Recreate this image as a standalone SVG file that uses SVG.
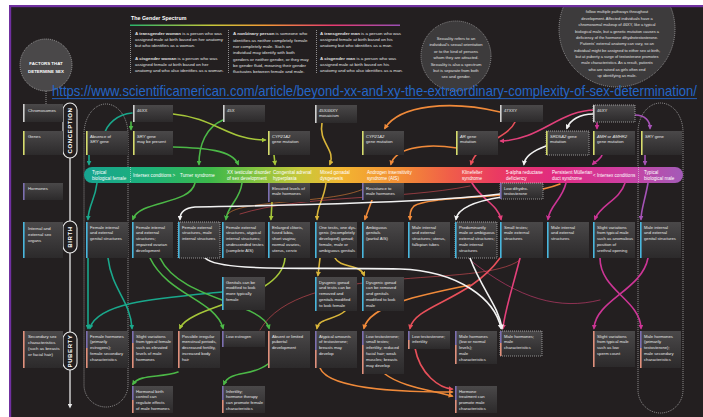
<svg xmlns="http://www.w3.org/2000/svg" width="703" height="417" viewBox="0 0 703 417">
<defs>
<linearGradient id="gb" x1="0" y1="0" x2="0" y2="1"><stop offset="0" stop-color="#4a4849"/><stop offset="1" stop-color="#2c2a2b"/></linearGradient>
<linearGradient id="band" gradientUnits="userSpaceOnUse" x1="84" y1="0" x2="683" y2="0">
<stop offset="0" stop-color="#17a390"/><stop offset="0.11" stop-color="#1db27a"/><stop offset="0.21" stop-color="#3cb84a"/><stop offset="0.29" stop-color="#86c440"/><stop offset="0.36" stop-color="#c7c83a"/><stop offset="0.43" stop-color="#f2b531"/><stop offset="0.53" stop-color="#f38d35"/><stop offset="0.61" stop-color="#f05e49"/><stop offset="0.69" stop-color="#ea3a62"/><stop offset="0.79" stop-color="#e02b82"/><stop offset="0.89" stop-color="#d03d9f"/><stop offset="1" stop-color="#a35bb8"/>
</linearGradient>
<linearGradient id="gsl" gradientUnits="userSpaceOnUse" x1="130" y1="0" x2="400" y2="0">
<stop offset="0" stop-color="#2bb36a"/><stop offset="0.3" stop-color="#c6c83a"/><stop offset="0.5" stop-color="#f39a35"/><stop offset="0.75" stop-color="#e83a70"/><stop offset="1" stop-color="#9a4fb5"/>
</linearGradient>
<marker id="mTeal" viewBox="0 0 6 6" refX="4" refY="3" markerWidth="5" markerHeight="5" markerUnits="userSpaceOnUse" orient="auto"><path d="M0,0L6,3L0,6z" fill="#1aa88c"/></marker>
<marker id="mGrn" viewBox="0 0 6 6" refX="4" refY="3" markerWidth="5" markerHeight="5" markerUnits="userSpaceOnUse" orient="auto"><path d="M0,0L6,3L0,6z" fill="#4cb847"/></marker>
<marker id="mYg" viewBox="0 0 6 6" refX="4" refY="3" markerWidth="5" markerHeight="5" markerUnits="userSpaceOnUse" orient="auto"><path d="M0,0L6,3L0,6z" fill="#a6c63a"/></marker>
<marker id="mYel" viewBox="0 0 6 6" refX="4" refY="3" markerWidth="5" markerHeight="5" markerUnits="userSpaceOnUse" orient="auto"><path d="M0,0L6,3L0,6z" fill="#d9b53a"/></marker>
<marker id="mOrg" viewBox="0 0 6 6" refX="4" refY="3" markerWidth="5" markerHeight="5" markerUnits="userSpaceOnUse" orient="auto"><path d="M0,0L6,3L0,6z" fill="#f08a3a"/></marker>
<marker id="mRed" viewBox="0 0 6 6" refX="4" refY="3" markerWidth="5" markerHeight="5" markerUnits="userSpaceOnUse" orient="auto"><path d="M0,0L6,3L0,6z" fill="#e8505a"/></marker>
<marker id="mPnk" viewBox="0 0 6 6" refX="4" refY="3" markerWidth="5" markerHeight="5" markerUnits="userSpaceOnUse" orient="auto"><path d="M0,0L6,3L0,6z" fill="#e2407a"/></marker>
<marker id="mMag" viewBox="0 0 6 6" refX="4" refY="3" markerWidth="5" markerHeight="5" markerUnits="userSpaceOnUse" orient="auto"><path d="M0,0L6,3L0,6z" fill="#cc3595"/></marker>
<marker id="mPur" viewBox="0 0 6 6" refX="4" refY="3" markerWidth="5" markerHeight="5" markerUnits="userSpaceOnUse" orient="auto"><path d="M0,0L6,3L0,6z" fill="#a553b6"/></marker>
<marker id="mWht" viewBox="0 0 6 6" refX="4" refY="3" markerWidth="5" markerHeight="5" markerUnits="userSpaceOnUse" orient="auto"><path d="M0,0L6,3L0,6z" fill="#f2f2f2"/></marker>
<marker id="mTl" viewBox="0 0 6 6" refX="3" refY="3" markerWidth="5" markerHeight="5" markerUnits="userSpaceOnUse" orient="auto"><path d="M0,0L6,3L0,6z" fill="#e8e8e8"/></marker>
</defs>
<style>
.bx{fill:url(#gb)}
.t{font-family:"Liberation Sans",Arial,sans-serif;font-size:4.2px;fill:#e6e6e6}
.lt{font-family:"Liberation Sans",Arial,sans-serif;font-size:4.3px;fill:#e6e6e6}
.st{font-family:"Liberation Sans",Arial,sans-serif;font-size:4.4px;fill:#e0e0e0}
.bt{font-family:"Liberation Sans",Arial,sans-serif;font-size:4.6px;fill:#ffffff}
.ct{font-family:"Liberation Sans",Arial,sans-serif;font-size:4.1px;fill:#e0e0e0;text-anchor:middle}
.dot{fill:none;stroke:#dcdcdc;stroke-width:0.6;stroke-dasharray:1 1}
.bc{fill:#cfcfcf}.bg{fill:#d6dc6e}.bh{fill:#7c6fb0}.bo{fill:#49b6dd}.bs{fill:#e0907c}
.pill{fill:#231f20;stroke:#e8e8e8;stroke-width:1.1}
.pt{font-family:"Liberation Sans",Arial,sans-serif;font-size:6px;font-weight:bold;fill:#ffffff;letter-spacing:0.6px;text-anchor:middle}
.c{fill:none;stroke-width:1.6;stroke-linecap:round}
.teal{stroke:#1aa88c}.grn{stroke:#4cb847}.yg{stroke:#a6c63a}.yel{stroke:#d9b53a}.org{stroke:#f08a3a}.red{stroke:#e8505a}.pnk{stroke:#e2407a}.mag{stroke:#cc3595}.pur{stroke:#a553b6}.wht{stroke:#f2f2f2}
.thin{stroke-width:0.7;opacity:0.8}
</style>
<rect x="0" y="0" width="703" height="417" fill="#ffffff"/>
<rect x="9" y="5" width="694" height="412" fill="#231f20"/>

<!-- circles -->
<g id="factors">
<line x1="46" y1="91" x2="46" y2="104" class="dot"/>
<circle cx="46" cy="65" r="26" fill="#4a4849" class="dot" style="fill:#4a4849"/>
<text x="46" y="65" style="font-family:'Liberation Sans',Arial,sans-serif;font-size:4.4px;font-weight:bold;fill:#fff;text-anchor:middle">FACTORS THAT</text>
<text x="46" y="72.5" style="font-family:'Liberation Sans',Arial,sans-serif;font-size:4.4px;font-weight:bold;fill:#fff;text-anchor:middle">DETERMINE SEX</text>
</g>
<g id="sexuality">
<circle cx="456" cy="56" r="35" style="fill:#3d3b3c;stroke:#cfcfcf;stroke-width:0.6;stroke-dasharray:1 1"/>
<text class="ct"><tspan x="456" y="39.5">Sexuality refers to an</tspan><tspan x="456" y="46">individual's sexual orientation</tspan><tspan x="456" y="52.5">or to the kind of persons</tspan><tspan x="456" y="59">whom they are attracted.</tspan><tspan x="456" y="65.5">Sexuality is also a spectrum</tspan><tspan x="456" y="72">but is separate from both</tspan><tspan x="456" y="78">sex and gender.</tspan></text>
</g>
<g id="dht-note">
<circle cx="617" cy="29" r="58" style="fill:#3d3b3c;stroke:#cfcfcf;stroke-width:0.6;stroke-dasharray:1 1"/>
<text class="ct" style="font-size:3.95px"><tspan x="617" y="13">follow multiple pathways throughout</tspan><tspan x="617" y="19.5">development. Affected individuals have a</tspan><tspan x="617" y="26.2">chromosomal makeup of 46XY, like a typical</tspan><tspan x="617" y="32.8">biological male, but a genetic mutation causes a</tspan><tspan x="617" y="39">deficiency of the hormone dihydrotestosterone.</tspan><tspan x="617" y="45.4">Patients' external anatomy can vary, so an</tspan><tspan x="617" y="51.6">individual might be assigned to either sex at birth,</tspan><tspan x="617" y="58">but at puberty a surge of testosterone promotes</tspan><tspan x="617" y="64.2">male characteristics. As a result, patients</tspan><tspan x="617" y="70.5">who are raised as girls often end</tspan><tspan x="617" y="77">up identifying as male.</tspan></text>
</g>
<rect x="0" y="0" width="703" height="5" fill="#ffffff"/>
<rect x="9" y="5" width="694" height="2.2" fill="#7030a0"/>
<rect x="0" y="0" width="9" height="417" fill="#ffffff"/>
<rect x="9" y="5" width="2.2" height="412" fill="#7030a0"/>

<!-- gender spectrum -->
<g id="gender-spectrum">
<text x="131" y="19.5" style="font-family:'Liberation Sans',Arial,sans-serif;font-size:5.3px;font-weight:bold;fill:#fff">The Gender Spectrum</text>
<line x1="130" y1="25.3" x2="400" y2="25.3" stroke="url(#gsl)" stroke-width="1.6"/>
<line x1="130.5" y1="30" x2="130.5" y2="73" class="dot"/>
<line x1="228.5" y1="30" x2="228.5" y2="73" class="dot"/>
<line x1="316.5" y1="30" x2="316.5" y2="73" class="dot"/>
<text class="st"><tspan x="135" y="35"><tspan font-weight="bold">A transgender woman</tspan> is a person who was</tspan><tspan x="135" y="41">assigned male at birth based on her anatomy</tspan><tspan x="135" y="47.2">but who identifies as a woman.</tspan><tspan x="135" y="60"><tspan font-weight="bold">A cisgender woman</tspan> is a person who was</tspan><tspan x="135" y="66">assigned female at birth based on her</tspan><tspan x="135" y="72.3">anatomy and who also identifies as a woman.</tspan></text>
<text class="st"><tspan x="233" y="35"><tspan font-weight="bold">A nonbinary person</tspan> is someone who</tspan><tspan x="233" y="41.5">identifies as neither completely female</tspan><tspan x="233" y="48">nor completely male. Such an</tspan><tspan x="233" y="54.2">individual may identify with both</tspan><tspan x="233" y="60.5">genders or neither gender, or they may</tspan><tspan x="233" y="67">be gender fluid, meaning their gender</tspan><tspan x="233" y="73.3">fluctuates between female and male.</tspan></text>
<text class="st"><tspan x="320" y="35"><tspan font-weight="bold">A transgender man</tspan> is a person who was</tspan><tspan x="320" y="41">assigned female at birth based on his</tspan><tspan x="320" y="47.2">anatomy but who identifies as a man.</tspan><tspan x="320" y="60"><tspan font-weight="bold">A cisgender man</tspan> is a person who was</tspan><tspan x="320" y="66">assigned male at birth based on his</tspan><tspan x="320" y="72.3">anatomy and who also identifies as a man.</tspan></text>
</g>

<!-- URL -->
<g id="url">
<text x="52" y="95.5" textLength="645" lengthAdjust="spacingAndGlyphs" style="font-family:'Liberation Sans',Arial,sans-serif;font-size:15px;fill:#2466c8">https://www.scientificamerican.com/article/beyond-xx-and-xy-the-extraordinary-complexity-of-sex-determination/</text>
<line x1="52" y1="98.6" x2="697" y2="98.6" stroke="#2466c8" stroke-width="0.9"/>
</g>

<!-- envelopes -->
<g id="envelopes">
<path d="M84,134 A22,30 0 0 1 128,134 V385 A22,22 0 0 1 84,385 Z" class="dot"/>
<path d="M638,132 A22.5,29 0 0 1 683,132 V390 A22.5,23 0 0 1 638,390 Z" class="dot"/>
</g>

<!-- timeline -->
<g id="timeline">
<line x1="70" y1="103" x2="70" y2="406" stroke="#e8e8e8" stroke-width="1.3" marker-end="url(#mTl)"/>
<g id="conception"><rect x="63" y="103" width="14" height="55" rx="7" class="pill"/><text class="pt" transform="translate(72.2,130.5) rotate(-90)">CONCEPTION</text></g>
<g id="birth"><rect x="63" y="221" width="14" height="32" rx="7" class="pill"/><text class="pt" transform="translate(72.2,237) rotate(-90)">BIRTH</text></g>
<g id="puberty"><rect x="63" y="332" width="14" height="38" rx="7" class="pill"/><text class="pt" transform="translate(72.2,351) rotate(-90)">PUBERTY</text></g>
</g>

<!-- row labels -->
<g id="lbl-chrom"><rect x="23" y="104" width="40" height="18" class="bx"/><rect x="23" y="104" width="1.6" height="18" class="bc"/><text class="lt" x="28" y="111.5">Chromosomes</text></g>
<g id="lbl-genes"><rect x="23" y="131" width="40" height="24" class="bx"/><rect x="23" y="131" width="1.6" height="24" class="bg"/><text class="lt" x="28" y="138">Genes</text></g>
<g id="lbl-horm"><rect x="23" y="183" width="40" height="17" class="bx"/><rect x="23" y="183" width="1.6" height="17" class="bh"/><text class="lt" x="28" y="190">Hormones</text></g>
<g id="lbl-organs"><rect x="23" y="222" width="40" height="36" class="bx"/><rect x="23" y="222" width="1.6" height="36" class="bo"/><text class="lt"><tspan x="28" y="229.5">Internal and</tspan><tspan x="28" y="235.5">external sex</tspan><tspan x="28" y="241.5">organs</tspan></text></g>
<g id="lbl-second"><rect x="23" y="331" width="40" height="37" class="bx"/><rect x="23" y="331" width="1.6" height="37" class="bs"/><text class="lt"><tspan x="28" y="338">Secondary sex</tspan><tspan x="28" y="344">characteristics</tspan><tspan x="28" y="350">(such as breasts</tspan><tspan x="28" y="356">or facial hair)</tspan></text></g>

<!-- spectrum band -->
<g id="spectrum">
<rect x="84" y="167" width="599" height="16" rx="8" fill="url(#band)"/>
<line x1="130.5" y1="167" x2="130.5" y2="183" class="dot"/>
<line x1="638.5" y1="167" x2="638.5" y2="183" class="dot"/>
<text class="bt"><tspan x="92" y="173.8">Typical</tspan><tspan x="92" y="179.8">biological female</tspan></text>
<text class="bt" x="133" y="176.8">Intersex conditions &gt;</text>
<text class="bt" x="180" y="176.8">Turner syndrome</text>
<text class="bt"><tspan x="227" y="173.8">XX testicular disorder</tspan><tspan x="227" y="179.8">of sex development</tspan></text>
<text class="bt"><tspan x="273" y="173.8">Congenital adrenal</tspan><tspan x="273" y="179.8">hyperplasia</tspan></text>
<text class="bt"><tspan x="320" y="173.8">Mixed gonadal</tspan><tspan x="320" y="179.8">dysgenesis</tspan></text>
<text class="bt"><tspan x="367" y="173.8">Androgen insensitivity</tspan><tspan x="367" y="179.8">syndrome (AIS)</tspan></text>
<text class="bt"><tspan x="462" y="173.8">Klinefelter</tspan><tspan x="462" y="179.8">syndrome</tspan></text>
<text class="bt"><tspan x="506" y="173.8">5-alpha reductase</tspan><tspan x="506" y="179.8">deficiency</tspan></text>
<text class="bt"><tspan x="552" y="173.8">Persistent Müllerian</tspan><tspan x="552" y="179.8">duct syndrome</tspan></text>
<text class="bt" x="593" y="176.8">&lt; Intersex conditions</text>
<text class="bt"><tspan x="644" y="173.8">Typical</tspan><tspan x="644" y="179.8">biological male</tspan></text>
</g>

<!-- connectors -->
<g id="connectors">
<path class="c teal" d="M132,113 C118,114 106,124 104,136" marker-end="url(#mTeal)"/>
<path class="c teal" d="M89,155 L89,164" marker-end="url(#mTeal)"/>
<path class="c teal" d="M97,183 C95,200 89,204 88,219" marker-end="url(#mTeal)"/>
<path class="c teal" d="M88,258 L88,328" marker-end="url(#mTeal)"/>
<path class="c teal" d="M222,292 C160,298 98,302 90,328" marker-end="url(#mTeal)"/>
<path class="c teal" d="M108,258 C112,290 130,300 132,328" marker-end="url(#mTeal)"/>
<path class="c grn" d="M131,122 L131,129" marker-end="url(#mGrn)"/>
<path class="c grn" d="M173,147 C205,148 232,150 238,164" marker-end="url(#mGrn)"/>
<path class="c grn" d="M223,120 C206,127 199,145 199,164" marker-end="url(#mGrn)"/>
<path class="c grn" d="M195,183 C190,205 140,200 133,219" marker-end="url(#mGrn)"/>
<path class="c grn" d="M242,183 C240,200 228,205 226,219" marker-end="url(#mGrn)"/>
<path class="c grn" d="M150,258 C168,295 215,300 223,328" marker-end="url(#mGrn)"/>
<path class="c grn" d="M160,258 C180,300 262,302 269,328" marker-end="url(#mGrn)"/>
<path class="c grn" d="M268,364 C252,377 230,370 224,384" marker-end="url(#mGrn)"/>
<path class="c grn" d="M178,372 C160,378 140,374 133,384" marker-end="url(#mGrn)"/>
<path class="c yg" d="M173,114 C215,118 228,140 265,140" marker-end="url(#mYg)"/>
<path class="c yg" d="M274,155 L275,164" marker-end="url(#mYg)"/>
<path class="c yg" d="M272,202 L271,219" marker-end="url(#mYg)"/>
<path class="c yg" d="M285,258 C282,300 190,305 180,328" marker-end="url(#mYg)"/>
<path class="c yel" d="M322,123 C318,142 336,150 330,164" marker-end="url(#mYel)"/>
<path class="c yel" d="M326,183 C324,200 317,205 317,219" marker-end="url(#mYel)"/>
<path class="c yel" d="M320,258 L318,275" marker-end="url(#mYel)"/>
<path class="c yel" d="M335,258 C340,268 360,264 364,275" marker-end="url(#mYel)"/>
<path class="c yel" d="M345,311 C335,320 319,318 317,328" marker-end="url(#mYel)"/>
<path class="c org" d="M500,112 C450,100 400,105 385,128" marker-end="url(#mOrg)"/>
<path class="c org" d="M457,148 C420,142 395,150 391,164" marker-end="url(#mOrg)"/>
<path class="c org thin" d="M372,183 C355,205 240,198 228,214"/>
<path class="c org" d="M372,200 L365,219" marker-end="url(#mOrg)"/>
<path class="c org" d="M560,184 C520,200 430,195 414,206 C410,210 410,214 410,219" marker-end="url(#mOrg)"/>
<path class="c org" d="M470,285 C420,295 370,305 364,328" marker-end="url(#mOrg)"/>
<path class="c org" d="M320,368 C330,392 420,392 452,392" marker-end="url(#mOrg)"/>
<path class="c org" d="M385,374 C400,386 430,390 452,396" marker-end="url(#mOrg)"/>
<path class="c red" d="M515,122 C508,138 478,142 471,164" marker-end="url(#mRed)"/>
<path class="c red" d="M500,258 C470,300 415,305 410,328" marker-end="url(#mRed)"/>
<path class="c red" d="M415,348 C420,375 440,388 452,389" marker-end="url(#mRed)"/>
<path class="c red thin" d="M470,186 C400,200 300,195 240,214"/>
<path class="c red thin" d="M520,260 C480,290 300,260 260,330"/>
<path class="c pnk" d="M595,110 C560,110 540,140 501,141" marker-end="url(#mPnk)"/>
<path class="c pnk" d="M472,183 C482,200 498,205 501,219" marker-end="url(#mPnk)"/>
<path class="c pnk" d="M520,258 C512,290 505,310 503,328" marker-end="url(#mPnk)"/>
<path class="c pnk thin" d="M470,260 C520,300 560,310 600,300"/>
<path class="c mag" d="M597,123 L597,128" marker-end="url(#mMag)"/>
<path class="c mag" d="M602,155 C600,160 595,162 593,164" marker-end="url(#mMag)"/>
<path class="c mag" d="M566,183 C562,200 550,205 548,219" marker-end="url(#mMag)"/>
<path class="c mag" d="M625,183 C620,200 600,205 595,219" marker-end="url(#mMag)"/>
<path class="c mag" d="M600,258 C600,290 640,300 641,328" marker-end="url(#mMag)"/>
<path class="c mag" d="M648,258 C642,290 596,300 594,328" marker-end="url(#mMag)"/>
<path class="c pur" d="M635,115 C645,115 650,121 650,128" marker-end="url(#mPur)"/>
<path class="c pur" d="M645,155 L645,164" marker-end="url(#mPur)"/>
<path class="c pur" d="M648,183 C645,200 641,210 641,219" marker-end="url(#mPur)"/>
<path class="c wht" d="M593,114 C580,114 570,120 567,128" marker-end="url(#mWht)"/>
<path class="c wht" d="M546,146 C535,150 525,156 524,164" marker-end="url(#mWht)"/>
<path class="c wht" d="M500,194 C420,204 240,206 195,207 C184,208 180,213 180,219" marker-end="url(#mWht)"/>
<path class="c wht" d="M502,197 C476,201 458,208 456,219" marker-end="url(#mWht)"/>
<path class="c wht" d="M205,258 C220,272 300,267 400,269 C460,271 495,300 501,328" marker-end="url(#mWht)"/>
<path class="c wht" d="M470,258 C482,290 498,305 502,328" marker-end="url(#mWht)"/>
</g>

<!-- chromosome row -->
<g id="n-46xx"><rect x="133" y="105" width="40" height="17" class="bx"/><rect x="133" y="105" width="1.6" height="17" class="bc"/><text class="t" x="137" y="111.5">46XX</text></g>
<g id="n-45x"><rect x="223" y="105" width="42" height="17" class="bx"/><rect x="223" y="105" width="1.6" height="17" class="bc"/><text class="t" x="227" y="111.5">45X</text></g>
<g id="n-mosaic"><rect x="315" y="105" width="42" height="18" class="bx"/><rect x="315" y="105" width="1.6" height="18" class="bc"/><text class="t"><tspan x="319" y="111.5">45X/46XY</tspan><tspan x="319" y="117.3">mosaicism</tspan></text></g>
<g id="n-47xxy"><rect x="500" y="105" width="43" height="17" class="bx"/><rect x="500" y="105" width="1.6" height="17" class="bc"/><text class="t" x="504" y="111.5">47XXY</text></g>
<g id="n-46xy"><rect x="593" y="105" width="42" height="17" class="bx"/><rect x="593" y="105" width="42" height="17" class="dot"/><rect x="593" y="105" width="1.6" height="17" class="bc"/><text class="t" x="597" y="111.5">46XY</text></g>

<!-- genes row -->
<g id="g-absent"><rect x="86" y="131" width="42" height="24" class="bx"/><rect x="86" y="131" width="1.6" height="24" class="bg"/><text class="t"><tspan x="90" y="137.5">Absence of</tspan><tspan x="90" y="143.3"><tspan font-style="italic">SRY</tspan> gene</tspan></text></g>
<g id="g-sry-f"><rect x="133" y="131" width="40" height="24" class="bx"/><rect x="133" y="131" width="1.6" height="24" class="bg"/><text class="t"><tspan x="137" y="137.5"><tspan font-style="italic">SRY</tspan> gene</tspan><tspan x="137" y="143.3">may be present</tspan></text></g>
<g id="g-cyp1"><rect x="268" y="131" width="42" height="24" class="bx"/><rect x="268" y="131" width="1.6" height="24" class="bg"/><text class="t"><tspan x="272" y="137.5" font-style="italic">CYP21A2</tspan><tspan x="272" y="143.3">gene mutation</tspan></text></g>
<g id="g-cyp2"><rect x="362" y="131" width="42" height="24" class="bx"/><rect x="362" y="131" width="1.6" height="24" class="bg"/><text class="t"><tspan x="366" y="137.5" font-style="italic">CYP21A2</tspan><tspan x="366" y="143.3">gene mutation</tspan></text></g>
<g id="g-ar"><rect x="456" y="131" width="42" height="24" class="bx"/><rect x="456" y="131" width="1.6" height="24" class="bg"/><text class="t"><tspan x="460" y="137.5"><tspan font-style="italic">AR</tspan> gene</tspan><tspan x="460" y="143.3">mutation</tspan></text></g>
<g id="g-srd"><rect x="546" y="131" width="43" height="24" class="bx"/><rect x="546" y="131" width="43" height="24" class="dot"/><rect x="546" y="131" width="1.6" height="24" class="bg"/><text class="t"><tspan x="550" y="137.5"><tspan font-style="italic">SRD5A2</tspan> gene</tspan><tspan x="550" y="143.3">mutation</tspan></text></g>
<g id="g-amh"><rect x="593" y="131" width="42" height="24" class="bx"/><rect x="593" y="131" width="1.6" height="24" class="bg"/><text class="t"><tspan x="597" y="137.5"><tspan font-style="italic">AMH</tspan> or <tspan font-style="italic">AMHR2</tspan></tspan><tspan x="597" y="143.3">gene mutation</tspan></text></g>
<g id="g-sry-m"><rect x="641" y="131" width="41" height="24" class="bx"/><rect x="641" y="131" width="1.6" height="24" class="bg"/><text class="t" x="645" y="137.5"><tspan font-style="italic">SRY</tspan> gene</text></g>

<!-- hormones row -->
<g id="h-elevated"><rect x="268" y="183" width="42" height="19" class="bx"/><rect x="268" y="183" width="1.6" height="19" class="bh"/><text class="t"><tspan x="272" y="189.5">Elevated levels of</tspan><tspan x="272" y="195.3">male hormones</tspan></text></g>
<g id="h-resist"><rect x="362" y="183" width="42" height="17" class="bx"/><rect x="362" y="183" width="1.6" height="17" class="bh"/><text class="t"><tspan x="366" y="189.5">Resistance to</tspan><tspan x="366" y="195.3">male hormones</tspan></text></g>
<g id="h-lowdht"><rect x="500" y="183" width="43" height="16" class="bx"/><rect x="500" y="183" width="43" height="16" class="dot"/><rect x="500" y="183" width="1.6" height="16" class="bh"/><text class="t"><tspan x="504" y="189.5">Low dihydro-</tspan><tspan x="504" y="195.3">testosterone</tspan></text></g>

<!-- birth row -->
<g id="o-f1"><rect x="86" y="222" width="42" height="36" class="bx"/><rect x="86" y="222" width="1.6" height="36" class="bo"/><text class="t"><tspan x="90" y="228.5">Female internal</tspan><tspan x="90" y="234.3">and external</tspan><tspan x="90" y="240.1">genital structures</tspan></text></g>
<g id="o-f2"><rect x="132" y="222" width="41" height="36" class="bx"/><rect x="132" y="222" width="1.6" height="36" class="bo"/><text class="t"><tspan x="136" y="228.5">Female internal</tspan><tspan x="136" y="234.3">and external</tspan><tspan x="136" y="240.1">structures;</tspan><tspan x="136" y="245.9">impaired ovarian</tspan><tspan x="136" y="251.7">development</tspan></text></g>
<g id="o-f3"><rect x="178" y="222" width="42" height="36" class="bx"/><rect x="178" y="222" width="42" height="36" class="dot"/><rect x="178" y="222" width="1.6" height="36" class="bo"/><text class="t"><tspan x="182" y="228.5">Female external</tspan><tspan x="182" y="234.3">structures, male</tspan><tspan x="182" y="240.1">internal structures</tspan></text></g>
<g id="o-f4"><rect x="222" y="222" width="43" height="36" class="bx"/><rect x="222" y="222" width="1.6" height="36" class="bo"/><text class="t"><tspan x="226" y="228.5">Female external</tspan><tspan x="226" y="234.3">structures, atypical</tspan><tspan x="226" y="240.1">internal structures;</tspan><tspan x="226" y="245.9">undescended testes</tspan><tspan x="226" y="251.7">(complete AIS)</tspan></text></g>
<g id="o-cah"><rect x="268" y="222" width="42" height="36" class="bx"/><rect x="268" y="222" width="1.6" height="36" class="bo"/><text class="t"><tspan x="272" y="228.5">Enlarged clitoris,</tspan><tspan x="272" y="234.3">fused labia,</tspan><tspan x="272" y="240.1">short vagina;</tspan><tspan x="272" y="245.9">normal ovaries,</tspan><tspan x="272" y="251.7">uterus, cervix</tspan></text></g>
<g id="o-mgd"><rect x="315" y="222" width="42" height="36" class="bx"/><rect x="315" y="222" width="1.6" height="36" class="bo"/><text class="t"><tspan x="319" y="228.5">One testis, one dys-</tspan><tspan x="319" y="234.3">genic (incompletely</tspan><tspan x="319" y="240.1">developed) gonad;</tspan><tspan x="319" y="245.9">female, male or</tspan><tspan x="319" y="251.7">ambiguous genitals</tspan></text></g>
<g id="o-pais"><rect x="362" y="222" width="42" height="36" class="bx"/><rect x="362" y="222" width="1.6" height="36" class="bo"/><text class="t"><tspan x="366" y="228.5">Ambiguous</tspan><tspan x="366" y="234.3">genitals</tspan><tspan x="366" y="240.1">(partial AIS)</tspan></text></g>
<g id="o-uterus"><rect x="408" y="222" width="42" height="36" class="bx"/><rect x="408" y="222" width="1.6" height="36" class="bo"/><text class="t"><tspan x="412" y="228.5">Male internal</tspan><tspan x="412" y="234.3">and external</tspan><tspan x="412" y="240.1">structures; uterus,</tspan><tspan x="412" y="245.9">fallopian tubes</tspan></text></g>
<g id="o-predom"><rect x="455" y="222" width="42" height="36" class="bx"/><rect x="455" y="222" width="42" height="36" class="dot"/><rect x="455" y="222" width="1.6" height="36" class="bo"/><text class="t"><tspan x="459" y="228.5">Predominantly</tspan><tspan x="459" y="234.3">male or ambiguous</tspan><tspan x="459" y="240.1">external structures;</tspan><tspan x="459" y="245.9">male internal</tspan><tspan x="459" y="251.7">structures</tspan></text></g>
<g id="o-small"><rect x="500" y="222" width="43" height="36" class="bx"/><rect x="500" y="222" width="1.6" height="36" class="bo"/><text class="t"><tspan x="504" y="228.5">Small testes;</tspan><tspan x="504" y="234.3">male external</tspan><tspan x="504" y="240.1">structures</tspan></text></g>
<g id="o-pmds"><rect x="547" y="222" width="42" height="36" class="bx"/><rect x="547" y="222" width="1.6" height="36" class="bo"/><text class="t"><tspan x="551" y="228.5">Male internal</tspan><tspan x="551" y="234.3">and external</tspan><tspan x="551" y="240.1">structures</tspan></text></g>
<g id="o-slight"><rect x="593" y="222" width="42" height="36" class="bx"/><rect x="593" y="222" width="1.6" height="36" class="bo"/><text class="t"><tspan x="597" y="228.5">Slight variations</tspan><tspan x="597" y="234.3">from typical male</tspan><tspan x="597" y="240.1">such as anomalous</tspan><tspan x="597" y="245.9">position of</tspan><tspan x="597" y="251.7">urethral opening</tspan></text></g>
<g id="o-male"><rect x="640" y="222" width="41" height="36" class="bx"/><rect x="640" y="222" width="1.6" height="36" class="bo"/><text class="t"><tspan x="644" y="228.5">Male internal</tspan><tspan x="644" y="234.3">and external</tspan><tspan x="644" y="240.1">genital structures</tspan></text></g>

<!-- surgery row -->
<g id="s-genitals"><rect x="222" y="277" width="43" height="33" class="bx"/><rect x="222" y="277" width="1.6" height="33" class="bo"/><text class="t"><tspan x="226" y="283.5">Genitals can be</tspan><tspan x="226" y="289.3">modified to look</tspan><tspan x="226" y="295.1">more typically</tspan><tspan x="226" y="300.9">female</tspan></text></g>
<g id="s-dys1"><rect x="315" y="277" width="42" height="34" class="bx"/><rect x="315" y="277" width="1.6" height="34" class="bo"/><text class="t"><tspan x="319" y="283.5">Dysgenic gonad</tspan><tspan x="319" y="289.3">and testis can be</tspan><tspan x="319" y="295.1">removed and</tspan><tspan x="319" y="300.9">genitals modified</tspan><tspan x="319" y="306.7">to look female</tspan></text></g>
<g id="s-dys2"><rect x="362" y="277" width="42" height="34" class="bx"/><rect x="362" y="277" width="1.6" height="34" class="bo"/><text class="t"><tspan x="366" y="283.5">Dysgenic gonad</tspan><tspan x="366" y="289.3">can be removed</tspan><tspan x="366" y="295.1">and genitals</tspan><tspan x="366" y="300.9">modified to look</tspan><tspan x="366" y="306.7">male</tspan></text></g>

<!-- puberty row -->
<g id="p-female"><rect x="86" y="331" width="42" height="37" class="bx"/><rect x="86" y="331" width="1.6" height="17" class="bh"/><rect x="86" y="348" width="1.6" height="20" class="bs"/><text class="t"><tspan x="90" y="337.5">Female hormones</tspan><tspan x="90" y="343.3">(primarily</tspan><tspan x="90" y="349.1">estrogens);</tspan><tspan x="90" y="354.9">female secondary</tspan><tspan x="90" y="360.7">characteristics</tspan></text></g>
<g id="p-slightf"><rect x="132" y="331" width="41" height="37" class="bx"/><rect x="132" y="331" width="1.6" height="12" class="bh"/><rect x="132" y="343" width="1.6" height="25" class="bs"/><text class="t"><tspan x="136" y="337.5">Slight variations</tspan><tspan x="136" y="343.3">from typical female</tspan><tspan x="136" y="349.1">such as elevated</tspan><tspan x="136" y="354.9">levels of male</tspan><tspan x="136" y="360.7">hormones</tspan></text></g>
<g id="p-irregular"><rect x="178" y="331" width="42" height="37" class="bx"/><rect x="178" y="331" width="1.6" height="37" class="bs"/><text class="t"><tspan x="182" y="337.5">Possible irregular</tspan><tspan x="182" y="343.3">menstrual periods,</tspan><tspan x="182" y="349.1">decreased fertility,</tspan><tspan x="182" y="354.9">increased body</tspan><tspan x="182" y="360.7">hair</tspan></text></g>
<g id="p-lowest"><rect x="222" y="331" width="43" height="16" class="bx"/><rect x="222" y="331" width="1.6" height="16" class="bh"/><text class="t" x="226" y="337.5">Low estrogen</text></g>
<g id="p-absent"><rect x="268" y="331" width="42" height="37" class="bx"/><rect x="268" y="331" width="1.6" height="37" class="bs"/><text class="t"><tspan x="272" y="337.5">Absent or limited</tspan><tspan x="272" y="343.3">pubertal</tspan><tspan x="272" y="349.1">development</tspan></text></g>
<g id="p-atypical"><rect x="315" y="331" width="42" height="37" class="bx"/><rect x="315" y="331" width="1.6" height="19" class="bh"/><rect x="315" y="350" width="1.6" height="18" class="bs"/><text class="t"><tspan x="319" y="337.5">Atypical amounts</tspan><tspan x="319" y="343.3">of testosterone;</tspan><tspan x="319" y="349.1">breasts may</tspan><tspan x="319" y="354.9">develop</tspan></text></g>
<g id="p-lowtest"><rect x="362" y="331" width="42" height="43" class="bx"/><rect x="362" y="331" width="1.6" height="14" class="bh"/><rect x="362" y="345" width="1.6" height="29" class="bs"/><text class="t"><tspan x="366" y="337.5">Low testosterone;</tspan><tspan x="366" y="343.3">small testes;</tspan><tspan x="366" y="349.1">infertility; reduced</tspan><tspan x="366" y="354.9">facial hair; weak</tspan><tspan x="366" y="360.7">muscles; breasts</tspan><tspan x="366" y="366.5">may develop</tspan></text></g>
<g id="p-lowinf"><rect x="408" y="331" width="42" height="18" class="bx"/><rect x="408" y="331" width="1.6" height="9" class="bh"/><rect x="408" y="340" width="1.6" height="9" class="bs"/><text class="t"><tspan x="412" y="337.5">Low testosterone;</tspan><tspan x="412" y="343.3">infertility</tspan></text></g>
<g id="p-malelow"><rect x="455" y="331" width="42" height="33" class="bx"/><rect x="455" y="331" width="1.6" height="14" class="bh"/><rect x="455" y="345" width="1.6" height="19" class="bs"/><text class="t"><tspan x="459" y="337.5">Male hormones</tspan><tspan x="459" y="343.3">(low or normal</tspan><tspan x="459" y="349.1">levels);</tspan><tspan x="459" y="354.9">male</tspan><tspan x="459" y="360.7">characteristics</tspan></text></g>
<g id="p-malechar"><rect x="500" y="331" width="42" height="25" class="bx"/><rect x="500" y="331" width="42" height="25" class="dot"/><rect x="500" y="331" width="1.6" height="12" class="bh"/><rect x="500" y="343" width="1.6" height="13" class="bs"/><text class="t"><tspan x="504" y="337.5">Male hormones;</tspan><tspan x="504" y="343.3">male</tspan><tspan x="504" y="349.1">characteristics</tspan></text></g>
<g id="p-slightm"><rect x="593" y="331" width="42" height="36" class="bx"/><rect x="593" y="331" width="1.6" height="36" class="bs"/><text class="t"><tspan x="597" y="337.5">Slight variations</tspan><tspan x="597" y="343.3">from typical male</tspan><tspan x="597" y="349.1">such as low</tspan><tspan x="597" y="354.9">sperm count</tspan></text></g>
<g id="p-male"><rect x="640" y="331" width="41" height="37" class="bx"/><rect x="640" y="331" width="1.6" height="17" class="bh"/><rect x="640" y="348" width="1.6" height="20" class="bs"/><text class="t"><tspan x="644" y="337.5">Male hormones</tspan><tspan x="644" y="343.3">(primarily</tspan><tspan x="644" y="349.1">testosterone);</tspan><tspan x="644" y="354.9">male secondary</tspan><tspan x="644" y="360.7">characteristics</tspan></text></g>

<!-- treatment row -->
<g id="q-birthctl"><rect x="132" y="386" width="41" height="27" class="bx"/><rect x="132" y="386" width="1.6" height="14" class="bh"/><rect x="132" y="400" width="1.6" height="13" class="bs"/><text class="t"><tspan x="136" y="392.5">Hormonal birth</tspan><tspan x="136" y="398.3">control can</tspan><tspan x="136" y="404.1">regulate effects</tspan><tspan x="136" y="409.9">of male hormones</tspan></text></g>
<g id="q-infert"><rect x="222" y="386" width="43" height="27" class="bx"/><rect x="222" y="386" width="1.6" height="14" class="bh"/><rect x="222" y="400" width="1.6" height="13" class="bs"/><text class="t"><tspan x="226" y="392.5">Infertility;</tspan><tspan x="226" y="398.3">hormone therapy</tspan><tspan x="226" y="404.1">can promote female</tspan><tspan x="226" y="409.9">characteristics</tspan></text></g>
<g id="q-hormtx"><rect x="455" y="386" width="42" height="27" class="bx"/><rect x="455" y="386" width="1.6" height="14" class="bh"/><rect x="455" y="400" width="1.6" height="13" class="bs"/><text class="t"><tspan x="459" y="392.5">Hormone</tspan><tspan x="459" y="398.3">treatment can</tspan><tspan x="459" y="404.1">promote male</tspan><tspan x="459" y="409.9">characteristics</tspan></text></g>
</svg>
